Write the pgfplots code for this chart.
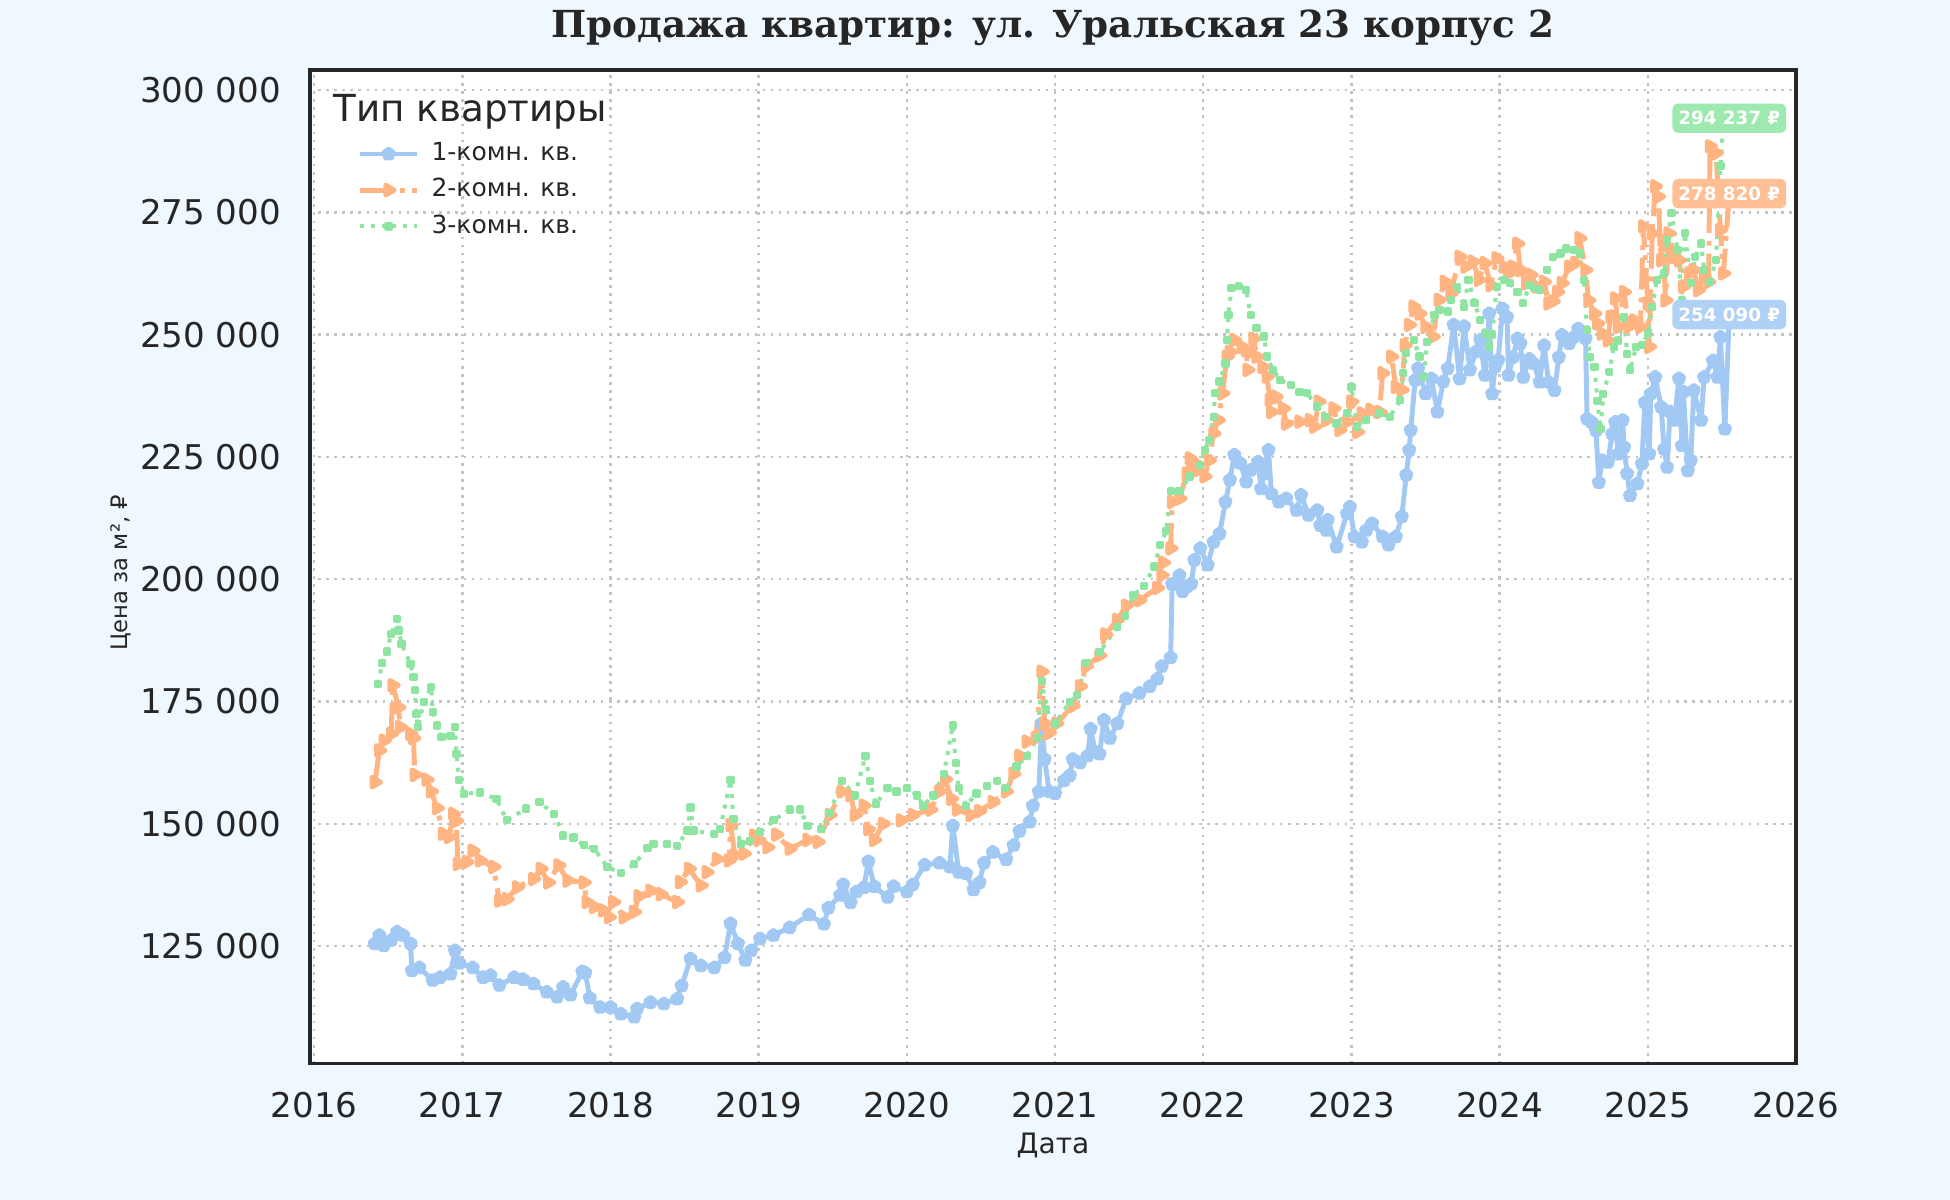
\documentclass[border=0pt]{standalone}
\usepackage{fontspec}
\setmainfont{DejaVu Sans}
\newfontfamily\titlefont{DejaVu Serif}
\usepackage{pgfplots}
\pgfplotsset{compat=1.18}
\usetikzlibrary{plotmarks}
\definecolor{bgc}{HTML}{F0F8FF}
\definecolor{txt}{HTML}{262626}
\definecolor{c1}{HTML}{A1C9F4}
\definecolor{c2}{HTML}{FFB482}
\definecolor{c3}{HTML}{8DE5A1}
\definecolor{gridc}{HTML}{C4C4C4}
\tikzset{endlab/.style={text=white, rounded corners=0.6mm, inner xsep=0.6mm, inner ysep=0pt, minimum height=2.94mm, font=\bfseries\fontsize{5.2}{6.2}\selectfont}}
\begin{document}
\begin{tikzpicture}
\fill[bgc] (-31.0mm,-13.63mm) rectangle (164.0mm,106.37mm);
\begin{axis}[
  at={(0,0)}, anchor=south west,
  scale only axis, width=148.6mm, height=99.37mm,
  xmin=2015.972, xmax=2026.0, ymin=100950, ymax=304090,
  scaled y ticks=false, scaled x ticks=false,
  axis background/.style={fill=white},
  axis line style={txt, line width=0.94pt},
  xtick={2016,2017,2018,2019,2020,2021,2022,2023,2024,2025,2026},
  xticklabels={2016,2017,2018,2019,2020,2021,2022,2023,2024,2025,2026},
  ytick={125000,150000,175000,200000,225000,250000,275000,300000},
  yticklabels={125 000,150 000,175 000,200 000,225 000,250 000,275 000,300 000},
  major tick length=0pt,
  tick label style={font=\fontsize{9.7}{11.5}\selectfont, text=txt},
  xticklabel style={anchor=north, inner sep=0pt, yshift=-2.8mm},
  yticklabel style={anchor=east, inner sep=0pt, xshift=-2.83mm},
  grid=major,
  major grid style={gridc, line width=0.7pt, dash pattern=on 0.7pt off 1.6pt},
  xlabel={Дата},
  xlabel style={at={(axis description cs:0.5,0)}, anchor=north, inner sep=0pt, yshift=-6.9mm, font=\fontsize{8}{9.6}\selectfont, text=txt},
  ylabel={Цена за м², ₽},
  ylabel style={at={(axis description cs:-0.1272,0.494)}, anchor=center, inner sep=0pt, font=\fontsize{6.45}{7.7}\selectfont, text=txt},
  title={Продажа квартир: ул. Уральская 23 корпус 2},
  every axis title shift=0pt,
  title style={at={(axis description cs:0.5,1)}, anchor=base, yshift=3.27mm, inner sep=0pt, font=\titlefont\bfseries\fontsize{10.6}{12.7}\selectfont, text=txt},
  legend style={at={(axis description cs:0.0316,0.928)}, anchor=north west, draw=none, fill=none, inner sep=0pt, font=\fontsize{7.1}{8.5}\selectfont, text=txt, row sep=1.25mm, nodes={inner sep=0pt}, /tikz/every odd column/.append style={column sep=1.2mm}},
  legend cell align=left,
  legend image code/.code={\draw[mark repeat=2,mark phase=2,#1] plot coordinates {(0mm,0mm) (2.85mm,0mm) (5.7mm,0mm)};},
  after end axis/.code={
    \node[endlab, fill=c3!85!white] at (axis cs:2025.55,294237) {294 237 ₽};
    \node[endlab, fill=c2!85!white] at (axis cs:2025.55,278820) {278 820 ₽};
    \node[endlab, fill=c1!85!white] at (axis cs:2025.55,254090) {254 090 ₽};
  },
]
\addplot[c1, line width=1.4pt, line join=round, mark=pentagon*, mark size=1.4pt, mark options={solid}] coordinates {
(2016.41,125500)(2016.44,127200)(2016.47,125100)(2016.52,126200)(2016.56,127900)(2016.60,127200)(2016.65,125500)(2016.66,120000)(2016.71,120600)(2016.80,118000)(2016.85,118600)(2016.92,119300)(2016.95,124100)(2016.98,121500)(2017.07,120600)(2017.14,118600)(2017.19,119000)(2017.25,117000)(2017.35,118600)(2017.41,118200)(2017.48,117300)(2017.57,115600)(2017.64,114600)(2017.68,116600)(2017.73,115000)(2017.81,119800)(2017.83,119500)(2017.86,114400)(2017.93,112500)(2018.00,112500)(2018.07,111100)(2018.16,110500)(2018.18,112200)(2018.27,113500)(2018.36,113200)(2018.45,114200)(2018.48,116900)(2018.54,122400)(2018.61,121000)(2018.70,120600)(2018.77,122700)(2018.81,129600)(2018.86,125500)(2018.91,122100)(2018.95,124100)(2019.01,126500)(2019.10,127200)(2019.21,128800)(2019.34,131400)(2019.44,129500)(2019.47,132800)(2019.55,135400)(2019.57,137600)(2019.62,133900)(2019.66,136100)(2019.71,137000)(2019.74,142300)(2019.78,137200)(2019.87,135000)(2019.91,137200)(2020.00,136100)(2020.04,137600)(2020.12,141600)(2020.22,142000)(2020.29,141200)(2020.31,149600)(2020.35,140100)(2020.40,139800)(2020.45,136500)(2020.49,138000)(2020.52,142000)(2020.58,144200)(2020.67,142700)(2020.72,145600)(2020.76,148500)(2020.83,150400)(2020.85,153700)(2020.89,156600)(2020.91,170500)(2020.93,163200)(2020.96,156600)(2021.00,156200)(2021.06,158800)(2021.10,159900)(2021.12,163200)(2021.17,162500)(2021.22,163900)(2021.24,169400)(2021.27,164700)(2021.30,164300)(2021.33,171200)(2021.37,167500)(2021.42,170500)(2021.48,175600)(2021.57,176700)(2021.64,178100)(2021.69,179600)(2021.72,182200)(2021.78,184000)(2021.79,199000)(2021.84,200800)(2021.86,197500)(2021.89,198500)(2021.92,199100)(2021.94,203900)(2021.98,206300)(2022.03,202900)(2022.07,207600)(2022.11,209300)(2022.15,215800)(2022.18,220300)(2022.21,225400)(2022.25,223700)(2022.29,219900)(2022.32,222300)(2022.37,224000)(2022.39,218500)(2022.41,221600)(2022.44,226400)(2022.46,217500)(2022.51,215800)(2022.56,216500)(2022.63,214100)(2022.66,217200)(2022.71,213100)(2022.77,214100)(2022.79,211000)(2022.83,210000)(2022.84,212100)(2022.90,206600)(2022.97,213400)(2022.99,214800)(2023.02,208700)(2023.07,207600)(2023.10,210000)(2023.14,211400)(2023.21,208700)(2023.25,207000)(2023.30,208700)(2023.34,212800)(2023.37,221300)(2023.39,226400)(2023.40,230500)(2023.43,240700)(2023.45,243100)(2023.50,237900)(2023.54,241000)(2023.58,234200)(2023.62,240400)(2023.65,243100)(2023.69,252000)(2023.73,241000)(2023.76,251700)(2023.80,242800)(2023.84,246500)(2023.87,248900)(2023.90,241700)(2023.93,254300)(2023.95,237900)(2023.97,243400)(2023.99,244800)(2024.02,255300)(2024.05,253600)(2024.06,241700)(2024.09,245400)(2024.12,249200)(2024.14,248200)(2024.16,241300)(2024.20,245000)(2024.23,244100)(2024.27,240300)(2024.30,247800)(2024.33,240300)(2024.37,238600)(2024.40,245400)(2024.42,249900)(2024.47,248200)(2024.50,249500)(2024.53,251200)(2024.58,249200)(2024.59,232800)(2024.62,232100)(2024.65,230400)(2024.67,219800)(2024.69,224300)(2024.73,223900)(2024.76,229700)(2024.78,232100)(2024.80,225600)(2024.83,232500)(2024.84,227000)(2024.86,221600)(2024.88,217100)(2024.93,219500)(2024.96,223600)(2024.98,236100)(2025.01,225600)(2025.02,237900)(2025.05,241300)(2025.09,235200)(2025.11,226600)(2025.13,222900)(2025.15,234200)(2025.18,232500)(2025.21,241000)(2025.23,227300)(2025.24,238300)(2025.27,222200)(2025.29,224300)(2025.31,238600)(2025.36,232500)(2025.38,241300)(2025.44,244700)(2025.47,241300)(2025.49,249500)(2025.52,230700)(2025.55,254090)
};
\addlegendentry{1-комн. кв.}
\addplot[c2, line width=1.4pt, line join=round, dash pattern=on 9pt off 2.25pt on 1.4pt off 2.25pt, mark=triangle*, mark size=1.6pt, mark options={solid, rotate=-90}] coordinates {
(2016.41,158500)(2016.44,165000)(2016.47,167000)(2016.52,168400)(2016.53,178300)(2016.57,173800)(2016.58,169800)(2016.65,168400)(2016.67,167500)(2016.68,160000)(2016.76,159000)(2016.79,156600)(2016.83,153200)(2016.87,148000)(2016.91,147300)(2016.94,152000)(2016.96,150600)(2016.97,141800)(2017.03,142200)(2017.07,144500)(2017.12,142500)(2017.21,141200)(2017.25,134300)(2017.30,134600)(2017.37,137000)(2017.48,138700)(2017.53,140800)(2017.58,138000)(2017.65,141500)(2017.71,138400)(2017.82,138000)(2017.84,134000)(2017.89,133000)(2017.95,132300)(2017.99,130900)(2018.02,134000)(2018.09,130900)(2018.16,132000)(2018.19,135200)(2018.27,136300)(2018.34,135600)(2018.45,134000)(2018.47,138100)(2018.53,140800)(2018.61,137400)(2018.65,140100)(2018.72,142800)(2018.80,142500)(2018.81,149700)(2018.84,143600)(2018.90,143900)(2018.97,147600)(2019.00,146700)(2019.06,145200)(2019.12,147800)(2019.21,144900)(2019.33,146700)(2019.40,146300)(2019.48,151800)(2019.56,156600)(2019.62,155800)(2019.65,151800)(2019.71,153700)(2019.74,148900)(2019.78,146700)(2019.84,150000)(2019.96,150700)(2020.04,151800)(2020.16,152900)(2020.22,156600)(2020.26,159100)(2020.30,155100)(2020.34,152900)(2020.43,151800)(2020.49,152600)(2020.58,154400)(2020.67,156600)(2020.72,160200)(2020.76,163900)(2020.81,166800)(2020.87,167500)(2020.91,181100)(2020.93,170500)(2020.96,168600)(2021.01,170500)(2021.12,174100)(2021.17,178100)(2021.21,182200)(2021.30,184400)(2021.34,188700)(2021.42,191700)(2021.48,194600)(2021.57,195700)(2021.69,198200)(2021.72,200800)(2021.73,203400)(2021.78,206300)(2021.79,215800)(2021.84,216500)(2021.89,221600)(2021.91,224700)(2021.94,223800)(2021.96,222300)(2022.01,221000)(2022.04,224300)(2022.07,229800)(2022.10,232500)(2022.13,238000)(2022.16,245500)(2022.18,246500)(2022.21,248900)(2022.26,247500)(2022.29,246800)(2022.30,242800)(2022.34,249200)(2022.36,245500)(2022.40,243400)(2022.43,241400)(2022.45,236600)(2022.46,234200)(2022.49,237300)(2022.54,234900)(2022.56,231800)(2022.65,232200)(2022.72,232500)(2022.75,231200)(2022.78,236300)(2022.83,232500)(2022.88,234900)(2022.92,230500)(2022.97,232200)(2023.00,236300)(2023.04,230100)(2023.07,233900)(2023.13,234600)(2023.19,234200)(2023.21,242100)(2023.27,245500)(2023.30,239300)(2023.34,238700)(2023.36,247800)(2023.39,252000)(2023.42,255700)(2023.46,254300)(2023.50,251600)(2023.55,249600)(2023.59,257100)(2023.63,260800)(2023.67,258400)(2023.73,265900)(2023.77,263900)(2023.82,264900)(2023.86,261200)(2023.90,264600)(2023.94,260100)(2023.98,265600)(2024.03,263900)(2024.06,262500)(2024.09,263900)(2024.12,268600)(2024.14,263200)(2024.18,260500)(2024.21,262200)(2024.25,259800)(2024.30,260800)(2024.33,256400)(2024.36,256800)(2024.39,258700)(2024.42,260500)(2024.47,263900)(2024.51,264600)(2024.54,269700)(2024.58,263200)(2024.60,257000)(2024.64,254300)(2024.66,252300)(2024.69,250200)(2024.73,248800)(2024.75,253600)(2024.78,257400)(2024.80,251600)(2024.84,258700)(2024.87,251600)(2024.91,252900)(2024.95,251600)(2024.97,272100)(2025.00,256400)(2025.01,247500)(2025.03,270700)(2025.05,280300)(2025.07,278200)(2025.09,265200)(2025.10,269300)(2025.12,257000)(2025.14,270700)(2025.18,265900)(2025.21,265200)(2025.24,259800)(2025.28,262500)(2025.31,263200)(2025.34,259100)(2025.38,261800)(2025.41,260800)(2025.42,288500)(2025.46,287100)(2025.49,271400)(2025.51,262500)(2025.55,278820)
};
\addlegendentry{2-комн. кв.}
\addplot[c3, line width=1.15pt, line join=round, dash pattern=on 1.15pt off 1.9pt, mark=square*, mark size=0.6pt, mark options={solid}] coordinates {
(2016.43,178600)(2016.46,182800)(2016.49,185200)(2016.52,188800)(2016.56,191900)(2016.57,189500)(2016.59,186800)(2016.65,182700)(2016.67,180000)(2016.68,177300)(2016.69,172400)(2016.70,169800)(2016.74,174900)(2016.79,177900)(2016.80,172800)(2016.83,170100)(2016.86,167700)(2016.92,168000)(2016.95,169800)(2016.96,164300)(2016.98,158900)(2017.01,156100)(2017.12,156400)(2017.23,155100)(2017.30,150700)(2017.43,153100)(2017.52,154400)(2017.62,152000)(2017.68,147600)(2017.75,147200)(2017.82,145600)(2017.89,144900)(2017.98,141100)(2018.07,140000)(2018.16,141700)(2018.25,145100)(2018.29,145800)(2018.38,145800)(2018.45,145500)(2018.52,148600)(2018.54,153300)(2018.56,148600)(2018.70,147900)(2018.74,149000)(2018.81,158900)(2018.83,151000)(2018.88,145800)(2018.94,146500)(2019.01,148300)(2019.10,150700)(2019.21,152900)(2019.28,152900)(2019.33,149600)(2019.42,148900)(2019.48,152200)(2019.56,158800)(2019.65,155800)(2019.72,163900)(2019.75,158800)(2019.79,154000)(2019.87,157300)(2019.93,156600)(2020.00,157300)(2020.07,155800)(2020.11,153700)(2020.18,155800)(2020.25,160200)(2020.31,170100)(2020.33,162400)(2020.35,157300)(2020.40,153700)(2020.47,156200)(2020.54,157700)(2020.61,158800)(2020.67,157300)(2020.74,161700)(2020.81,163900)(2020.88,167500)(2020.91,179200)(2020.94,173400)(2021.00,170500)(2021.10,174900)(2021.15,176300)(2021.21,182900)(2021.30,185100)(2021.42,190200)(2021.47,192400)(2021.53,196800)(2021.60,198600)(2021.67,202600)(2021.71,207000)(2021.75,209900)(2021.78,218000)(2021.84,218000)(2021.91,221000)(2021.98,223300)(2022.01,226400)(2022.04,228400)(2022.07,233200)(2022.08,238000)(2022.11,240400)(2022.15,244100)(2022.16,248900)(2022.17,254000)(2022.19,259500)(2022.24,259900)(2022.29,259100)(2022.32,254000)(2022.36,251300)(2022.41,249600)(2022.43,245500)(2022.47,242800)(2022.52,240700)(2022.59,239700)(2022.65,238300)(2022.70,238000)(2022.77,235300)(2022.83,233200)(2022.90,231800)(2022.97,233900)(2023.00,239300)(2023.04,231200)(2023.10,232500)(2023.19,233900)(2023.26,233200)(2023.33,236600)(2023.35,242100)(2023.37,246200)(2023.42,248900)(2023.46,245500)(2023.49,241400)(2023.51,248500)(2023.56,254000)(2023.60,255000)(2023.65,254700)(2023.67,257100)(2023.71,259800)(2023.76,255700)(2023.79,261200)(2023.83,256400)(2023.87,253000)(2023.90,250200)(2023.93,247500)(2023.95,250000)(2023.98,259800)(2024.03,261100)(2024.07,260500)(2024.12,258700)(2024.16,256400)(2024.20,260100)(2024.23,259600)(2024.27,259100)(2024.32,263200)(2024.36,265900)(2024.41,266600)(2024.45,267600)(2024.50,267300)(2024.54,266600)(2024.57,261100)(2024.59,250900)(2024.61,245400)(2024.64,243400)(2024.66,236500)(2024.68,230700)(2024.70,237900)(2024.74,242400)(2024.77,247400)(2024.80,248800)(2024.84,253600)(2024.86,246100)(2024.88,242700)(2024.92,247400)(2024.96,247800)(2025.00,250200)(2025.03,255700)(2025.06,261100)(2025.11,262500)(2025.13,269300)(2025.16,274800)(2025.20,267300)(2025.23,257000)(2025.25,270700)(2025.29,260500)(2025.32,265900)(2025.36,268600)(2025.38,263200)(2025.42,260800)(2025.46,265200)(2025.49,284400)(2025.51,293200)(2025.55,294237)
};
\addlegendentry{3-комн. кв.}
\node[anchor=base west, inner sep=0pt, font=\fontsize{10.6}{12.7}\selectfont, text=txt] at (axis description cs:0.01548,0.948) {Тип квартиры};
\end{axis}
\end{tikzpicture}
\end{document}
